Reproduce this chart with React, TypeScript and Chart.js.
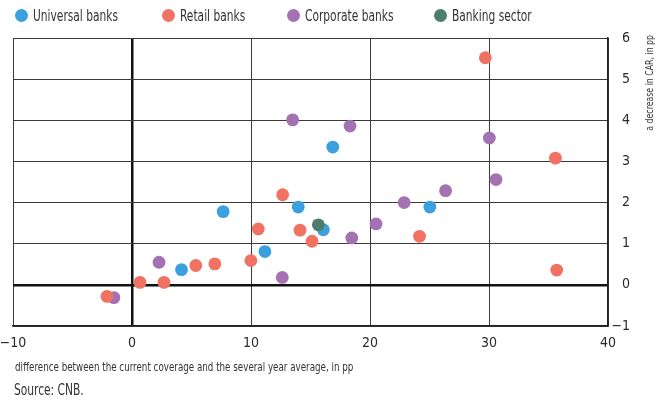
import React, { useEffect, useRef } from "react";
import { Chart, registerables } from "chart.js";

Chart.register(...registerables);

const FONT = "'DejaVu Sans Condensed', 'DejaVu Sans', sans-serif";
const K = 0.79; // horizontal condensation to imitate a condensed face

const seriesNames = ["Universal banks", "Retail banks", "Corporate banks", "Banking sector"];
const seriesColors = ["#3BA0DD", "#F07262", "#A472B3", "#4D7D6C"];
const legendCenters = [21.5, 168, 293, 440];

const universalX = [7.66, 13.97, 16.08, 11.17, 4.16, 16.87, 25.03];
const universalY = [1.78, 1.89, 1.34, 0.81, 0.37, 3.35, 1.89];

const retailX = [29.69, 35.58, 35.69, 24.16, 12.66, 10.61, 14.12, 15.13, 9.99, 6.96, 5.36, 0.67, 2.69, -2.1];
const retailY = [5.52, 3.08, 0.36, 1.18, 2.19, 1.36, 1.33, 1.06, 0.59, 0.51, 0.47, 0.06, 0.06, -0.28];

const corporateX = [13.5, 18.32, 30.03, 30.59, 26.35, 22.87, 20.51, 18.47, 2.27, 12.63, -1.52];
const corporateY = [4.01, 3.86, 3.57, 2.56, 2.29, 2.0, 1.48, 1.14, 0.55, 0.18, -0.31];

const sectorX = [15.66];
const sectorY = [1.46];

const xMin = -10;
const xMax = 40;
const xStep = 10;
const yMin = -1;
const yMax = 6;
const yStep = 1;

const xTitle = "difference between the current coverage and the several year average, in pp";
const yTitle = "a decrease in CAR, in pp";
const sourceText = "Source: CNB.";

const toPoints = (xs: number[], ys: number[]) => xs.map((x, i) => ({ x, y: ys[i] }));
const fmt = (v: number | string) => String(v).replace("-", "\u2212");

const titlesPlugin = {
  id: "condensedTitles",
  afterDraw(chart: any) {
    const ctx = chart.ctx;
    const area = chart.chartArea;
    ctx.save();
    ctx.fillStyle = "#333";
    // y-axis title, reading bottom to top, ending at the top
    ctx.save();
    ctx.font = `11px ${FONT}`;
    ctx.translate(650, 35);
    ctx.rotate(-Math.PI / 2);
    ctx.scale(K, 1);
    ctx.textAlign = "right";
    ctx.textBaseline = "middle";
    ctx.fillText(yTitle, 0, 0);
    ctx.restore();
    // x-axis title, left-aligned under the plot
    ctx.save();
    ctx.font = `12.3px ${FONT}`;
    ctx.translate(area.left + 2, 368);
    ctx.scale(K, 1);
    ctx.textAlign = "left";
    ctx.textBaseline = "middle";
    ctx.fillText(xTitle, 0, 0);
    ctx.restore();
    ctx.restore();
  },
};

export default function App() {
  const canvasRef = useRef<HTMLCanvasElement | null>(null);

  useEffect(() => {
    document.body.style.margin = "0";
    const canvas = canvasRef.current;
    if (!canvas) return;
    const datasets = [
      { data: toPoints(universalX, universalY), order: 0 },
      { data: toPoints(retailX, retailY), order: 0 },
      { data: toPoints(corporateX, corporateY), order: 0 },
      { data: toPoints(sectorX, sectorY), order: -1 },
    ].map((d, i) => ({
      label: seriesNames[i],
      data: d.data,
      order: d.order,
      backgroundColor: seriesColors[i],
      borderColor: seriesColors[i],
      borderWidth: 0,
      pointRadius: 6.4,
      pointHoverRadius: 6.4,
    }));

    const gridWidth = (ctx: any) => (ctx.tick && ctx.tick.value === 0 ? 2.5 : 1);
    const gridColor = (ctx: any) => (ctx.tick && ctx.tick.value === 0 ? "#111" : "#3a3a3a");

    const chart = new Chart(canvas, {
      type: "scatter",
      data: { datasets },
      plugins: [titlesPlugin],
      options: {
        responsive: false,
        animation: false,
        layout: { padding: { left: 13, right: 25, top: 38, bottom: 24 } },
        plugins: {
          legend: { display: false },
          tooltip: { enabled: false },
        },
        scales: {
          x: {
            type: "linear",
            min: xMin,
            max: xMax,
            afterFit: (s: any) => {
              s.height = 50;
              s.paddingLeft = 0;
              s.paddingRight = 0;
            },
            ticks: {
              stepSize: xStep,
              padding: 9,
              color: "#2a2a2a",
              font: { family: FONT, size: 14 },
              callback: (v: any) => fmt(v),
              maxRotation: 0,
            },
            grid: { drawTicks: false, color: gridColor, lineWidth: gridWidth },
            border: { display: true, color: "#222", width: 1.5 },
          },
          y: {
            type: "linear",
            position: "right",
            min: yMin,
            max: yMax,
            afterFit: (s: any) => {
              s.width = 22;
              s.paddingTop = 0;
              s.paddingBottom = 0;
            },
            ticks: {
              stepSize: yStep,
              padding: 6,
              color: "#2a2a2a",
              crossAlign: "far",
              font: { family: FONT, size: 14 },
              callback: (v: any) => fmt(v),
            },
            grid: { drawTicks: false, color: gridColor, lineWidth: gridWidth },
            border: { display: true, color: "#222", width: 1.5 },
          },
        },
      },
    } as any);
    return () => chart.destroy();
  }, []);

  const condensed: React.CSSProperties = {
    display: "inline-block",
    transform: `scaleX(${K})`,
    transformOrigin: "left center",
    whiteSpace: "nowrap",
  };

  return (
    <div style={{ position: "relative", width: 655, height: 400, fontFamily: FONT, color: "#333" }}>
      <canvas ref={canvasRef} width={655} height={400} style={{ position: "absolute", left: 0, top: 0 }} />
      {seriesNames.map((name, i) => (
        <div
          key={name}
          style={{
            position: "absolute",
            left: legendCenters[i] - 6.5,
            top: 6,
            height: 19,
            display: "flex",
            alignItems: "center",
            fontSize: 15,
          }}
        >
          <span
            style={{
              display: "inline-block",
              width: 13,
              height: 13,
              borderRadius: "50%",
              background: seriesColors[i],
              marginRight: 5,
              flex: "none",
            }}
          />
          <span style={condensed}>{name}</span>
        </div>
      ))}
      <div style={{ position: "absolute", left: 14, top: 381, fontSize: 15, lineHeight: "18px" }}>
        <span style={condensed}>{sourceText}</span>
      </div>
    </div>
  );
}
